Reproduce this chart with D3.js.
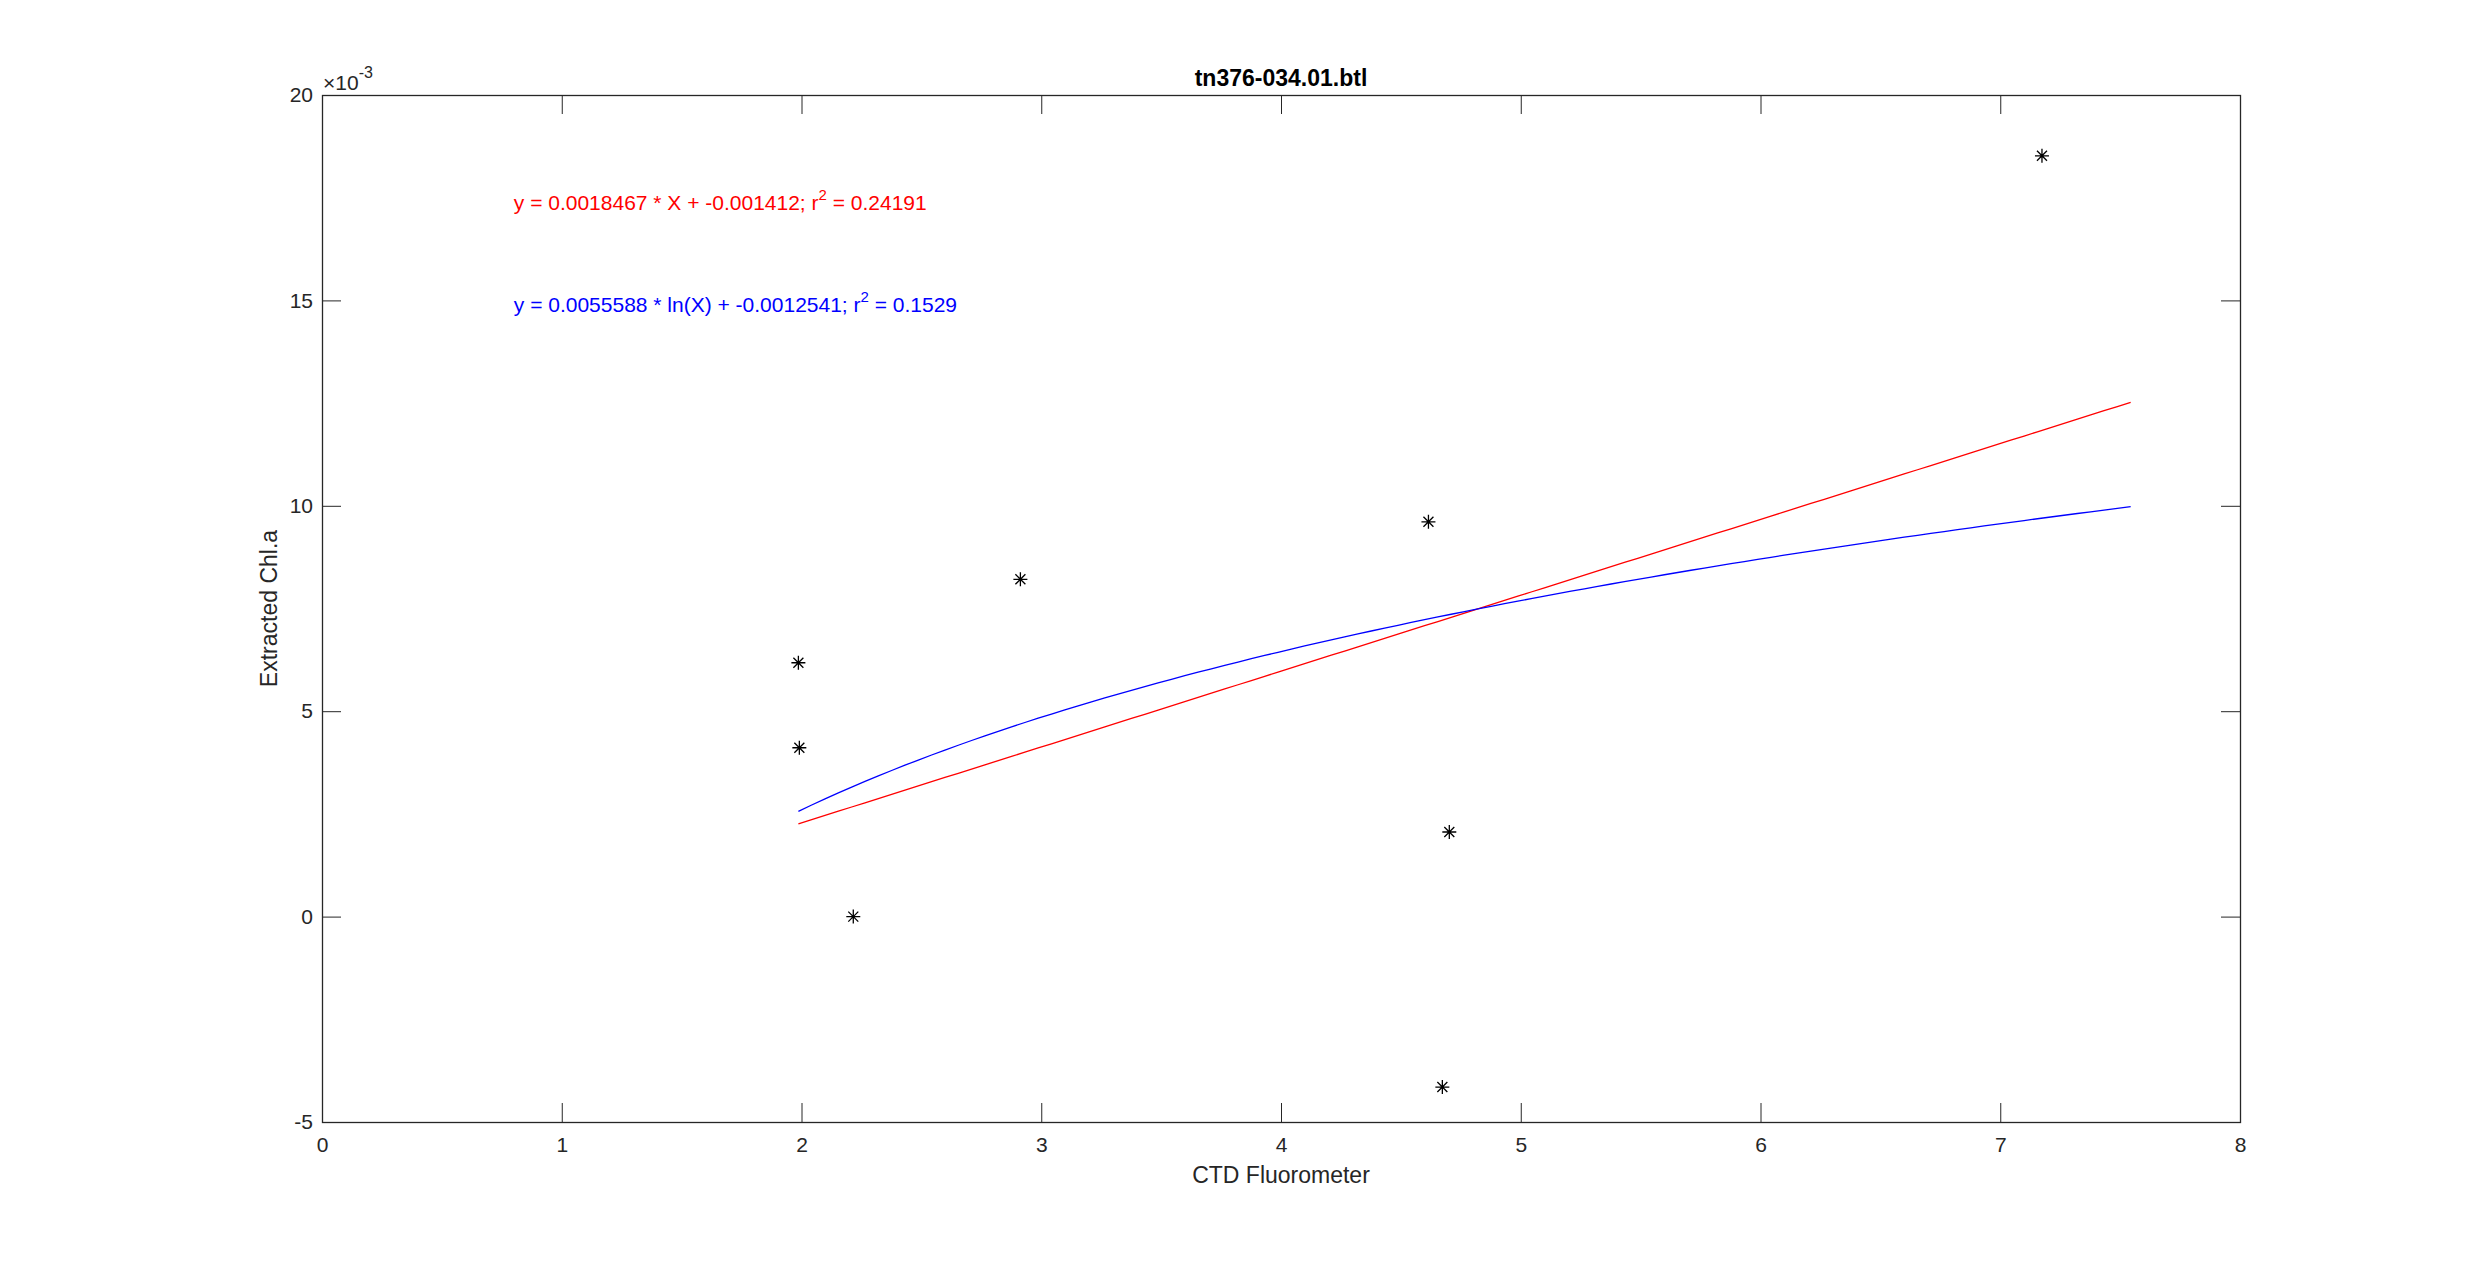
<!DOCTYPE html>
<html>
<head>
<meta charset="utf-8">
<script src="https://cdn.jsdelivr.net/npm/d3@7"></script>
<style>
  html, body { margin: 0; padding: 0; background: #fff; }
  svg { display: block; }
  text { font-family: "Liberation Sans", Arial, Helvetica, sans-serif; }
</style>
</head>
<body>
<svg id="chart" width="2475" height="1261"></svg>
<script>
// ---- data ----
const ctdFluorometer = [1.987, 1.991, 2.216, 2.913, 4.615, 4.702, 4.673, 7.174];
const extractedChlA  = [0.00618, 0.00411, 0.0000, 0.00821, 0.00961, 0.00206, -0.00415, 0.01852];

const xTicks = [0, 1, 2, 3, 4, 5, 6, 7, 8];
const yTicks = [-0.005, 0, 0.005, 0.010, 0.015, 0.020];
const yTickLabels = ["-5", "0", "5", "10", "15", "20"];

// fit models (coefficients as printed on the chart)
const linFit = { slope: 0.0018467, intercept: -0.001412 };
const logFit = { slope: 0.0055588, intercept: -0.0012541 };
const fitXRange = [1.987, 7.544];

const titleText = "tn376-034.01.btl";
const xLabelText = "CTD Fluorometer";
const yLabelText = "Extracted Chl.a";
const eqLin = { text: "y = 0.0018467 * X + -0.001412; r", sup: "2", tail: " = 0.24191", x: 0.8, y: 0.01737, color: "#ff0000" };
const eqLog = { text: "y = 0.0055588 * ln(X) + -0.0012541; r", sup: "2", tail: " = 0.1529", x: 0.8, y: 0.01488, color: "#0000ff" };

// ---- layout ----
const mLeft = 322, mRight = 2240, mTop = 95, mBottom = 1122;
const axisColor = "#262626";
const tickLen = 19;

const svg = d3.select("#chart");
const x = d3.scaleLinear().domain([0, 8]).range([mLeft, mRight]);
const y = d3.scaleLinear().domain([-0.005, 0.020]).range([mBottom, mTop]);

const fmtY = (v, i) => yTickLabels[i];

function styleAxis(g) {
  g.select(".domain").remove();
  g.selectAll(".tick line").attr("stroke", axisColor).attr("stroke-width", 1);
  g.selectAll(".tick text").attr("fill", axisColor).style("font-size", "21px")
    .style("font-family", '"Liberation Sans", Arial, Helvetica, sans-serif');
}

// bottom axis
svg.append("g").attr("transform", `translate(0,${mBottom})`)
  .call(d3.axisBottom(x).tickValues(xTicks).tickSizeInner(-tickLen).tickSizeOuter(0).tickPadding(15).tickFormat(d => String(d)))
  .call(styleAxis);
// top axis (ticks only)
svg.append("g").attr("transform", `translate(0,${mTop})`)
  .call(d3.axisTop(x).tickValues(xTicks).tickSizeInner(-tickLen).tickSizeOuter(0).tickFormat(""))
  .call(styleAxis);
// left axis
svg.append("g").attr("transform", `translate(${mLeft},0)`)
  .call(d3.axisLeft(y).tickValues(yTicks).tickSizeInner(-tickLen).tickSizeOuter(0).tickPadding(9).tickFormat(fmtY))
  .call(styleAxis);
// right axis (ticks only)
svg.append("g").attr("transform", `translate(${mRight},0)`)
  .call(d3.axisRight(y).tickValues(yTicks).tickSizeInner(-tickLen).tickSizeOuter(0).tickFormat(""))
  .call(styleAxis);

// box
svg.append("rect")
  .attr("x", mLeft + 0.5).attr("y", mTop + 0.5)
  .attr("width", mRight - mLeft).attr("height", mBottom - mTop)
  .attr("fill", "none").attr("stroke", axisColor).attr("stroke-width", 1.3);

// exponent label
const expo = svg.append("text").attr("x", mLeft + 1).attr("y", mTop - 5)
  .attr("fill", axisColor).style("font-size", "21px");
expo.append("tspan").text("\u00D710");
expo.append("tspan").attr("dy", -12).style("font-size", "16px").text("-3");

// fit curves
const fitXs = d3.range(0, 101).map(i => fitXRange[0] + (fitXRange[1] - fitXRange[0]) * i / 100);
const line = d3.line().x(d => x(d[0])).y(d => y(d[1]));
svg.append("path")
  .datum(fitXs.map(v => [v, linFit.slope * v + linFit.intercept]))
  .attr("d", line).attr("fill", "none").attr("stroke", "#ff0000").attr("stroke-width", 1.3);
svg.append("path")
  .datum(fitXs.map(v => [v, logFit.slope * Math.log(v) + logFit.intercept]))
  .attr("d", line).attr("fill", "none").attr("stroke", "#0000ff").attr("stroke-width", 1.3);

// star markers
const star = "M-7,0H7M0,-7V7M-5,-5L5,5M-5,5L5,-5";
svg.append("g").selectAll("path.pt")
  .data(ctdFluorometer.map((v, i) => [v, extractedChlA[i]]))
  .join("path").attr("class", "pt")
  .attr("transform", d => `translate(${x(d[0])},${y(d[1])})`)
  .attr("d", star).attr("stroke", "#000").attr("stroke-width", 1.3).attr("fill", "none");

// equations
[eqLin, eqLog].forEach(eq => {
  const t = svg.append("text").attr("x", x(eq.x)).attr("y", y(eq.y) + 7)
    .attr("fill", eq.color).style("font-size", "21px");
  t.append("tspan").text(eq.text);
  t.append("tspan").attr("dy", -10).style("font-size", "15px").text(eq.sup);
  t.append("tspan").attr("dy", 10).text(eq.tail);
});

// title
svg.append("text").attr("x", (mLeft + mRight) / 2).attr("y", 86)
  .attr("text-anchor", "middle").attr("fill", "#000")
  .style("font-size", "23px").style("font-weight", "bold").text(titleText);

// x label
svg.append("text").attr("x", (mLeft + mRight) / 2).attr("y", 1183)
  .attr("text-anchor", "middle").attr("fill", axisColor)
  .style("font-size", "23px").text(xLabelText);

// y label
svg.append("text")
  .attr("transform", `translate(277,${(mTop + mBottom) / 2}) rotate(-90)`)
  .attr("text-anchor", "middle").attr("fill", axisColor)
  .style("font-size", "23px").text(yLabelText);
</script>
</body>
</html>
